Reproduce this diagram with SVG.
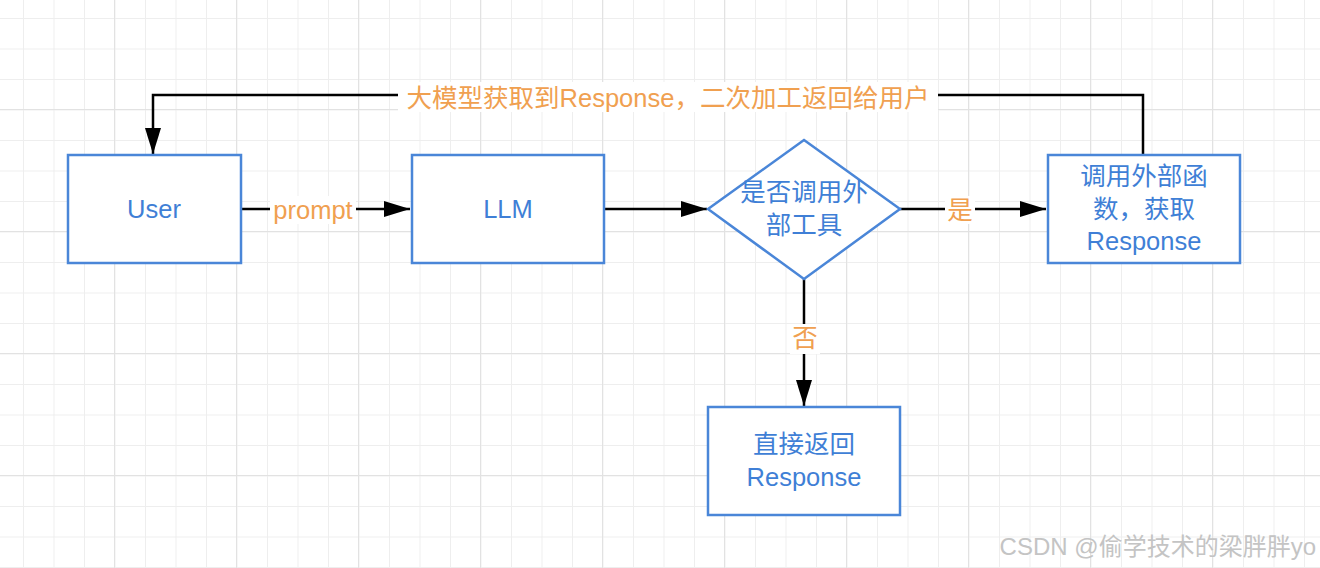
<svg xmlns="http://www.w3.org/2000/svg" width="1320" height="568" viewBox="0 0 1320 568">
<defs>
<pattern id="minor" x="23" y="18" width="30.5" height="30.5" patternUnits="userSpaceOnUse"><path d="M0 0V30.5M0 0H30.5" stroke="#eeeeee" stroke-width="2" fill="none"/></pattern>
<pattern id="major" x="114" y="109" width="122" height="122" patternUnits="userSpaceOnUse"><path d="M0 0V122M0 0H122" stroke="#e2e2e2" stroke-width="2" fill="none"/></pattern>
<marker id="arrL" markerWidth="26" markerHeight="16" refX="26" refY="8" orient="auto" markerUnits="userSpaceOnUse"><path d="M0 0L26 8L0 16Z" fill="#000"/></marker>
</defs>
<style>
.box{fill:#fff;stroke:#4a86d8;stroke-width:2.5}
.t{font-family:"Liberation Sans","Noto Sans CJK SC",sans-serif;font-size:25.5px;fill:#3f7fd6;text-anchor:middle}
.l{font-family:"Liberation Sans","Noto Sans CJK SC",sans-serif;font-size:25.5px;fill:#f0a050;text-anchor:middle}
.c{stroke:#000;stroke-width:2.5;fill:none;marker-end:url(#arrL)}
</style>
<rect width="1320" height="568" fill="#fff"/>
<rect width="1320" height="568" fill="url(#minor)"/>
<rect width="1320" height="568" fill="url(#major)"/>
<g id="connectors">
<path class="c" d="M1143 154V95H153V154"/>
<path class="c" d="M241 209H410"/>
<path class="c" d="M604 209H707"/>
<path class="c" d="M900 209H1046"/>
<path class="c" d="M804 279V406"/>
<rect x="398" y="82" width="540" height="30" fill="#fff"/>
<text class="l" x="668" y="107">大模型获取到Response，二次加工返回给用户</text>
<rect x="270" y="196" width="86" height="28" fill="#fff"/>
<text class="l" x="313" y="219">prompt</text>
<rect x="945" y="196" width="30" height="28" fill="#fff"/>
<text class="l" x="960" y="219">是</text>
<rect x="790" y="324" width="30" height="30" fill="#fff"/>
<text class="l" x="805" y="347">否</text>
</g>
<g id="user"><rect class="box" x="68" y="155" width="173" height="108"/><text class="t" x="154" y="218">User</text></g>
<g id="llm"><rect class="box" x="412" y="155" width="192" height="108"/><text class="t" x="508" y="218">LLM</text></g>
<g id="decision"><path class="box" d="M804 140L900 209L804 279L708 209Z"/><text class="t" x="804" y="201">是否调用外</text><text class="t" x="804" y="234">部工具</text></g>
<g id="call"><rect class="box" x="1048" y="155" width="192" height="108"/><text class="t" x="1144" y="185">调用外部函</text><text class="t" x="1144" y="218">数，获取</text><text class="t" x="1144" y="250">Response</text></g>
<g id="direct"><rect class="box" x="708" y="407" width="192" height="108"/><text class="t" x="804" y="453">直接返回</text><text class="t" x="804" y="486">Response</text></g>
<text x="1316" y="555" font-family="Liberation Sans,Noto Sans CJK SC,sans-serif" font-size="24" fill="#c4c4c4" text-anchor="end">CSDN @偷学技术的梁胖胖yo</text>
</svg>
